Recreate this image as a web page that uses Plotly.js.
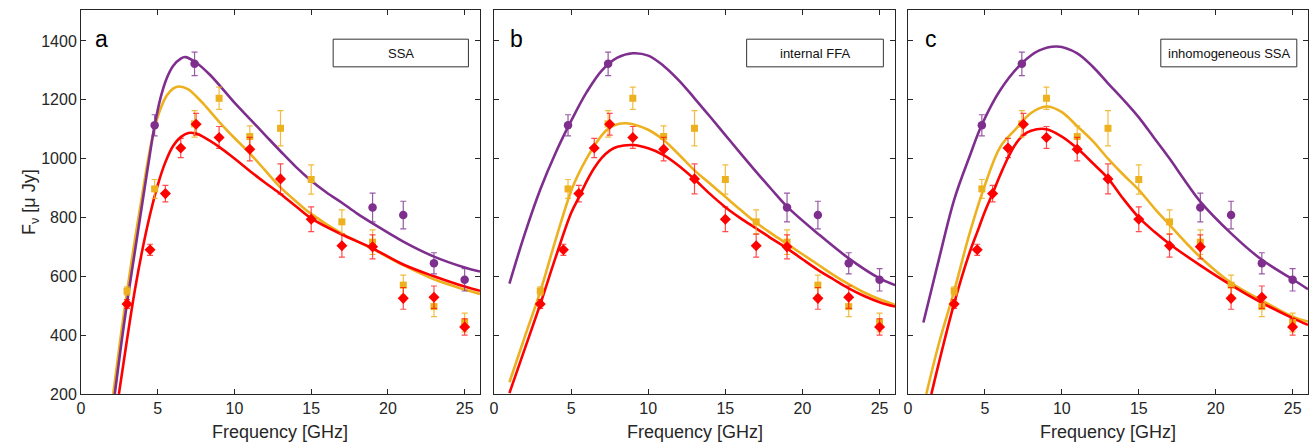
<!DOCTYPE html>
<html>
<head>
<meta charset="utf-8">
<script src="https://cdn.plot.ly/plotly-3.0.1.min.js"></script>
<style>html,body{margin:0;padding:0;background:#fff;}#chart{width:1316px;height:448px;}</style>
</head>
<body>
<div id="chart"></div>
<script>
// ---- measured data points (same in all panels) ----
const freqPurple = [4.8, 7.4, 19, 21, 23, 25];
const fluxPurple = [1113, 1322, 834, 808, 644, 588];
const errPurple  = [36, 40, 49, 47, 36, 38];

const freqOrange = [3, 4.8, 7.4, 9, 11, 13, 15, 17, 19, 21, 23, 25];
const fluxOrange = [550, 897, 1118, 1205, 1075, 1103, 929, 785, 716, 570, 497, 443];
const errOrange  = [14, 32, 45, 38, 36, 60, 50, 41, 42, 34, 34, 32];

const freqRed = [3, 4.5, 5.5, 6.5, 7.5, 9, 11, 13, 15, 17, 19, 21, 23, 25];
const fluxRed = [506, 690, 881, 1036, 1117, 1072, 1032, 931, 794, 704, 700, 525, 529, 428];
const errRed  = [15, 19, 28, 33, 37, 37, 40, 51, 42, 39, 41, 37, 38, 28];

// ---- model curves (SSA) ----
const ssaPurpleF = [2.2, 2.6, 3.0, 3.5, 4.0, 4.4, 4.8, 5.2, 5.6, 6.0, 6.5, 6.8, 7.4, 8.4, 10, 11, 12, 13, 14, 15, 16, 17, 18, 19, 21, 23, 25, 26];
const ssaPurpleS = [200, 360, 510, 680, 850, 985, 1113, 1210, 1275, 1315, 1340, 1345, 1330, 1285, 1190, 1135, 1080, 1025, 972, 925, 885, 850, 813, 780, 718, 667, 630, 616];
const ssaOrangeF = [2.1, 2.6, 3.0, 3.5, 4.0, 4.4, 4.8, 5.2, 5.6, 6.0, 6.4, 7.0, 7.5, 8.0, 9, 10, 11, 12, 13, 14, 15, 17, 19, 21, 23, 25, 26];
const ssaOrangeS = [200, 400, 548, 720, 880, 1005, 1105, 1172, 1215, 1238, 1245, 1235, 1212, 1185, 1125, 1070, 1018, 960, 902, 855, 812, 745, 693, 638, 590, 555, 540];
const ssaRedF = [2.47, 3.0, 3.5, 4.0, 4.5, 5.0, 5.5, 6.0, 6.5, 7.0, 7.5, 8.0, 9, 10, 11, 12, 13, 14, 15, 17, 19, 21, 23, 25, 26];
const ssaRedS = [200, 385, 550, 690, 810, 910, 988, 1043, 1073, 1087, 1085, 1073, 1040, 1000, 958, 918, 880, 838, 797, 742, 695, 640, 600, 565, 551];

// ---- model curves (internal FFA) ----
const ffaPurpleF = [1, 2, 3, 4, 5, 6, 7, 8, 9, 10, 11, 12, 13, 14, 15, 16, 17, 18, 19, 21, 23, 25, 26];
const ffaPurpleS = [575, 745, 895, 1020, 1128, 1225, 1300, 1343, 1358, 1350, 1315, 1265, 1205, 1143, 1080, 1017, 955, 895, 837, 745, 661, 593, 570];
const ffaOrangeF = [1, 2, 3, 4, 5, 5.5, 6, 6.5, 7, 7.5, 8, 8.5, 9, 10, 11, 12, 13, 14, 15, 16, 17, 18, 19, 20, 21, 22, 23, 24, 25, 26];
const ffaOrangeS = [240, 395, 548, 725, 890, 950, 1000, 1043, 1080, 1105, 1117, 1120, 1117, 1098, 1063, 1013, 960, 915, 870, 825, 782, 745, 710, 675, 640, 605, 573, 545, 522, 503];
const ffaRedF = [1, 2, 3, 4, 5, 5.5, 6, 6.5, 7, 7.5, 8, 9, 10, 11, 12, 13, 14, 15, 16, 17, 18, 19, 20, 21, 22, 23, 24, 25, 26];
const ffaRedS = [203, 354, 505, 665, 815, 868, 922, 968, 1003, 1027, 1040, 1046, 1035, 1012, 975, 930, 880, 835, 797, 763, 728, 695, 658, 622, 590, 559, 533, 512, 497];

// ---- model curves (inhomogeneous SSA) ----
const inhPurpleF = [1, 2, 3, 4, 4.8, 6, 7.4, 8.5, 9.7, 11, 12, 13, 14, 15, 16, 17, 18, 19, 21, 23, 25, 26];
const inhPurpleS = [443, 656, 860, 1007, 1115, 1233, 1324, 1367, 1381, 1358, 1313, 1256, 1200, 1140, 1070, 1000, 925, 854, 746, 656, 590, 556];
const inhOrangeF = [1.19, 2, 3, 4, 5, 6, 7, 8, 9, 10, 11, 12, 13, 14, 15, 16, 17, 18, 19, 21, 23, 25, 26];
const inhOrangeS = [200, 370, 550, 745, 910, 1040, 1100, 1155, 1177, 1158, 1110, 1060, 1000, 945, 894, 832, 775, 718, 665, 578, 518, 463, 446];
const inhRedF = [1.52, 2, 3, 4, 4.5, 5, 5.5, 6, 6.5, 7, 7.5, 8, 9, 10, 11, 12, 13, 14, 15, 16, 17, 19, 21, 23, 25, 26];
const inhRedS = [200, 304, 508, 680, 750, 820, 882, 945, 1003, 1050, 1080, 1095, 1100, 1075, 1035, 985, 933, 863, 800, 752, 710, 637, 570, 510, 458, 435];

const panelLetters = ['a', 'b', 'c'];
const panelModels = ['SSA', 'internal FFA', 'inhomogeneous SSA'];
const xTicks = [0, 5, 10, 15, 20, 25];
const yTicks = [200, 400, 600, 800, 1000, 1200, 1400];

const PURPLE = '#7E2F8E', ORANGE = '#EDB120', RED = '#FF0000';
const FONT = 'Liberation Sans, Arial, Helvetica, sans-serif';
const TXT = '#262626';

const curves = [
  [[ssaOrangeF, ssaOrangeS], [ssaRedF, ssaRedS], [ssaPurpleF, ssaPurpleS]],
  [[ffaOrangeF, ffaOrangeS], [ffaRedF, ffaRedS], [ffaPurpleF, ffaPurpleS]],
  [[inhOrangeF, inhOrangeS], [inhRedF, inhRedS], [inhPurpleF, inhPurpleS]]
];
const curveColors = [ORANGE, RED, PURPLE];

const traces = [];
for (let p = 0; p < 3; p++) {
  const xa = p === 0 ? 'x' : 'x' + (p + 1);
  const ya = p === 0 ? 'y' : 'y' + (p + 1);
  curves[p].forEach((c, i) => {
    traces.push({x: c[0], y: c[1], xaxis: xa, yaxis: ya, type: 'scatter', mode: 'lines',
      line: {color: curveColors[i], width: 2.6, shape: 'spline', smoothing: 1}, hoverinfo: 'skip'});
  });
  const pts = [
    [freqOrange, fluxOrange, errOrange, ORANGE, 'rgba(237,177,32,0.85)', 'square', 7],
    [freqRed, fluxRed, errRed, RED, 'rgba(255,0,0,0.7)', 'diamond', 8.5],
    [freqPurple, fluxPurple, errPurple, PURPLE, 'rgba(126,47,142,0.8)', 'circle', 8.5]
  ];
  pts.forEach(d => {
    traces.push({x: d[0], y: d[1], xaxis: xa, yaxis: ya, type: 'scatter', mode: 'markers',
      marker: {color: d[3], symbol: d[5], size: d[6], line: {width: 0}},
      error_y: {type: 'data', array: d[2], visible: true, color: d[4], thickness: 1.2, width: 3},
      cliponaxis: true});
  });
}

const domains = [[0, 0.32518], [0.33659, 0.66341], [0.67400, 1]];
function xAxis(i) {
  return {domain: domains[i], range: [0, 26], tickvals: xTicks, ticks: 'inside', ticklen: 5,
    tickcolor: TXT, showline: true, linecolor: TXT, linewidth: 1, mirror: 'ticks',
    showgrid: false, zeroline: false, anchor: i === 0 ? 'y' : 'y' + (i + 1),
    tickfont: {family: FONT, size: 16, color: TXT}};
}
function yAxis(i) {
  return {domain: [0, 1], range: [200, 1505], tickvals: yTicks, ticks: 'inside', ticklen: 5,
    tickcolor: TXT, showline: true, linecolor: TXT, linewidth: 1, mirror: 'ticks',
    showgrid: false, zeroline: false, anchor: i === 0 ? 'x' : 'x' + (i + 1),
    showticklabels: i === 0, tickfont: {family: FONT, size: 16, color: TXT}};
}

const boxX = [[0.632, 0.971], [0.630, 0.971], [0.632, 0.972]];
const letterX = [0.029, 0.034, 0.037];
const shapes = [], annotations = [];
for (let i = 0; i < 3; i++) {
  const xr = i === 0 ? 'x domain' : 'x' + (i + 1) + ' domain';
  const yr = i === 0 ? 'y domain' : 'y' + (i + 1) + ' domain';
  shapes.push({type: 'rect', xref: xr, yref: yr, x0: boxX[i][0], x1: boxX[i][1], y0: 0.852, y1: 0.924,
    line: {color: '#333333', width: 1}, fillcolor: '#ffffff', layer: 'above'});
  annotations.push({xref: xr, yref: yr, x: (boxX[i][0] + boxX[i][1]) / 2, y: 0.888,
    text: panelModels[i], showarrow: false, xanchor: 'center', yanchor: 'middle',
    font: {family: FONT, size: 13, color: '#111111'}});
  annotations.push({xref: xr, yref: yr, x: letterX[i], y: 0.924, text: panelLetters[i],
    showarrow: false, xanchor: 'left', yanchor: 'middle',
    font: {family: FONT, size: 23, color: '#000000'}});
  annotations.push({xref: xr, yref: 'paper', x: 0.5, y: -0.1, text: 'Frequency [GHz]',
    showarrow: false, xanchor: 'center', yanchor: 'middle',
    font: {family: FONT, size: 18, color: TXT}});
}
annotations.push({xref: 'paper', yref: 'paper', x: -0.0416, y: 0.5, text: 'F<sub>ν</sub> [μ Jy]',
  textangle: -90, showarrow: false, xanchor: 'center', yanchor: 'middle',
  font: {family: FONT, size: 18, color: TXT}});

const layout = {
  width: 1316, height: 448,
  margin: {l: 81, r: 8, t: 10, b: 54},
  paper_bgcolor: '#ffffff', plot_bgcolor: '#ffffff',
  showlegend: false,
  xaxis: xAxis(0), xaxis2: xAxis(1), xaxis3: xAxis(2),
  yaxis: yAxis(0), yaxis2: yAxis(1), yaxis3: yAxis(2),
  shapes: shapes, annotations: annotations
};

Plotly.newPlot('chart', traces, layout, {displayModeBar: false, staticPlot: true});
</script>
</body>
</html>
